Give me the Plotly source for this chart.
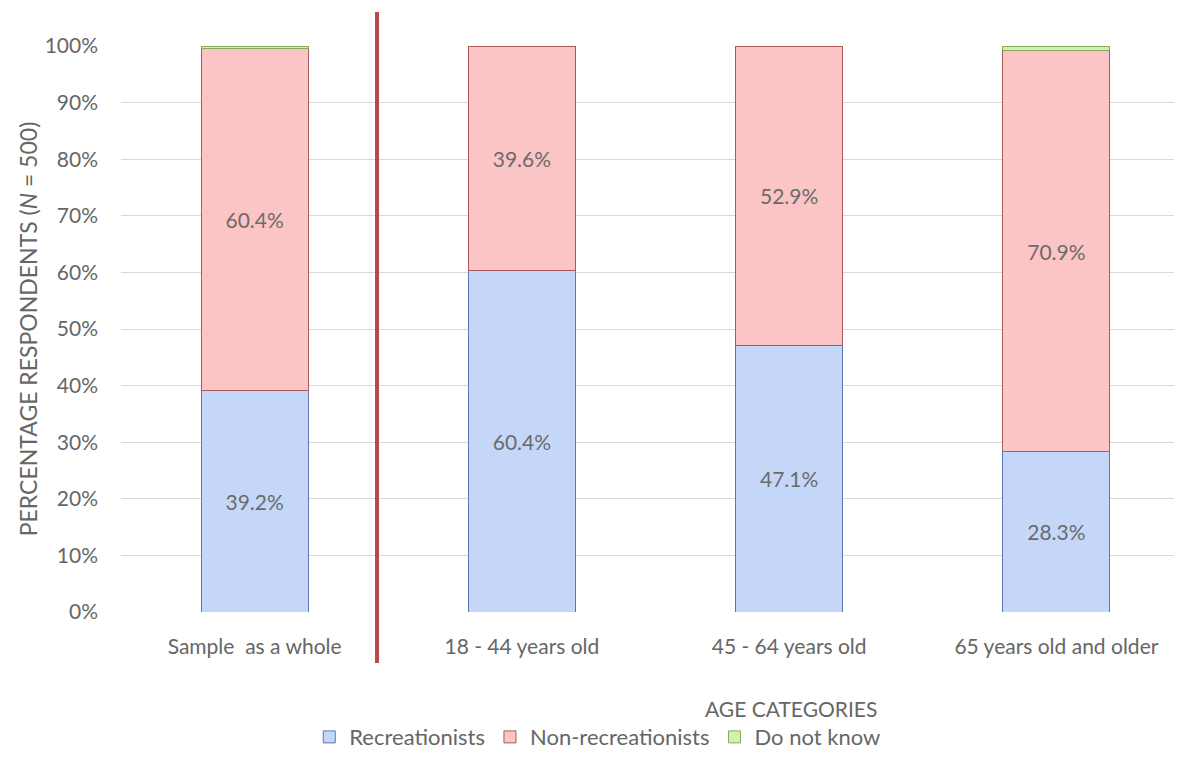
import plotly.graph_objects as go

categories = ["Sample  as a whole", "18 - 44 years old", "45 - 64 years old", "65 years old and older"]
recreationists = [39.2, 60.4, 47.1, 28.3]
non_recreationists = [60.4, 39.6, 52.9, 70.9]
do_not_know = [0.4, 0.0, 0.0, 0.8]
y_ticks = [0, 10, 20, 30, 40, 50, 60, 70, 80, 90, 100]
y_tick_labels = [f"{v}%" for v in y_ticks]

FONT = "Lato, 'Open Sans', sans-serif"
GRAY = "#666666"
FS = 21

fig = go.Figure()
fig.add_trace(go.Bar(
    x=categories, y=recreationists, name="Recreationists",
    marker=dict(color="#c5d7f9", line=dict(color="#5a78b0", width=1)),
    text=[f"{v:.1f}%" for v in recreationists], textposition="inside",
    insidetextanchor="middle", textfont=dict(size=FS, color="#6b6b6b", family=FONT),
))
fig.add_trace(go.Bar(
    x=categories, y=non_recreationists, name="Non-recreationists",
    marker=dict(color="#fbc4c5", line=dict(color="#a85a5a", width=1)),
    text=[f"{v:.1f}%" for v in non_recreationists], textposition="inside",
    insidetextanchor="middle", textfont=dict(size=FS, color="#6b6b6b", family=FONT),
))
fig.add_trace(go.Bar(
    x=categories, y=do_not_know, name="Do not know",
    marker=dict(color="#d4efb0",
                line=dict(color="#8aaa60", width=[1 if v > 0 else 0 for v in do_not_know])),
    textposition="none",
))

fig.add_shape(type="line", xref="x", yref="paper", x0=0.458, x1=0.458, y0=-0.090, y1=1.060,
              line=dict(color="#b84a4c", width=4))

fig.add_annotation(text="AGE CATEGORIES", xref="paper", yref="paper", x=0.627, y=-0.170,
                   yanchor="middle", showarrow=False, font=dict(size=FS, color=GRAY, family=FONT))

fig.update_layout(
    width=1182, height=776,
    barmode="stack", bargap=0.6,
    paper_bgcolor="white", plot_bgcolor="white",
    margin=dict(l=113, r=0, t=38, b=172),
    font=dict(family=FONT, color=GRAY, size=FS),
    showlegend=True,
    legend=dict(orientation="h", x=0.446, xanchor="center", y=-0.221, yanchor="middle",
                font=dict(size=22, color=GRAY, family=FONT), traceorder="normal",
                itemwidth=30),
    xaxis=dict(showline=False, ticks="", tickfont=dict(size=FS, color=GRAY), ticklabelstandoff=20),
    yaxis=dict(range=[0, 100], tickvals=y_ticks, ticktext=y_tick_labels,
               showgrid=True, gridcolor="#d9d9d9", gridwidth=1, zeroline=False,
               tickfont=dict(size=FS, color=GRAY), ticklabelstandoff=22,
               title=dict(text="PERCENTAGE RESPONDENTS (<i>N</i> = 500)",
                          font=dict(size=23, color=GRAY), standoff=0)),
    uniformtext=dict(mode="show", minsize=10),
)

fig.write_html("out.html")
